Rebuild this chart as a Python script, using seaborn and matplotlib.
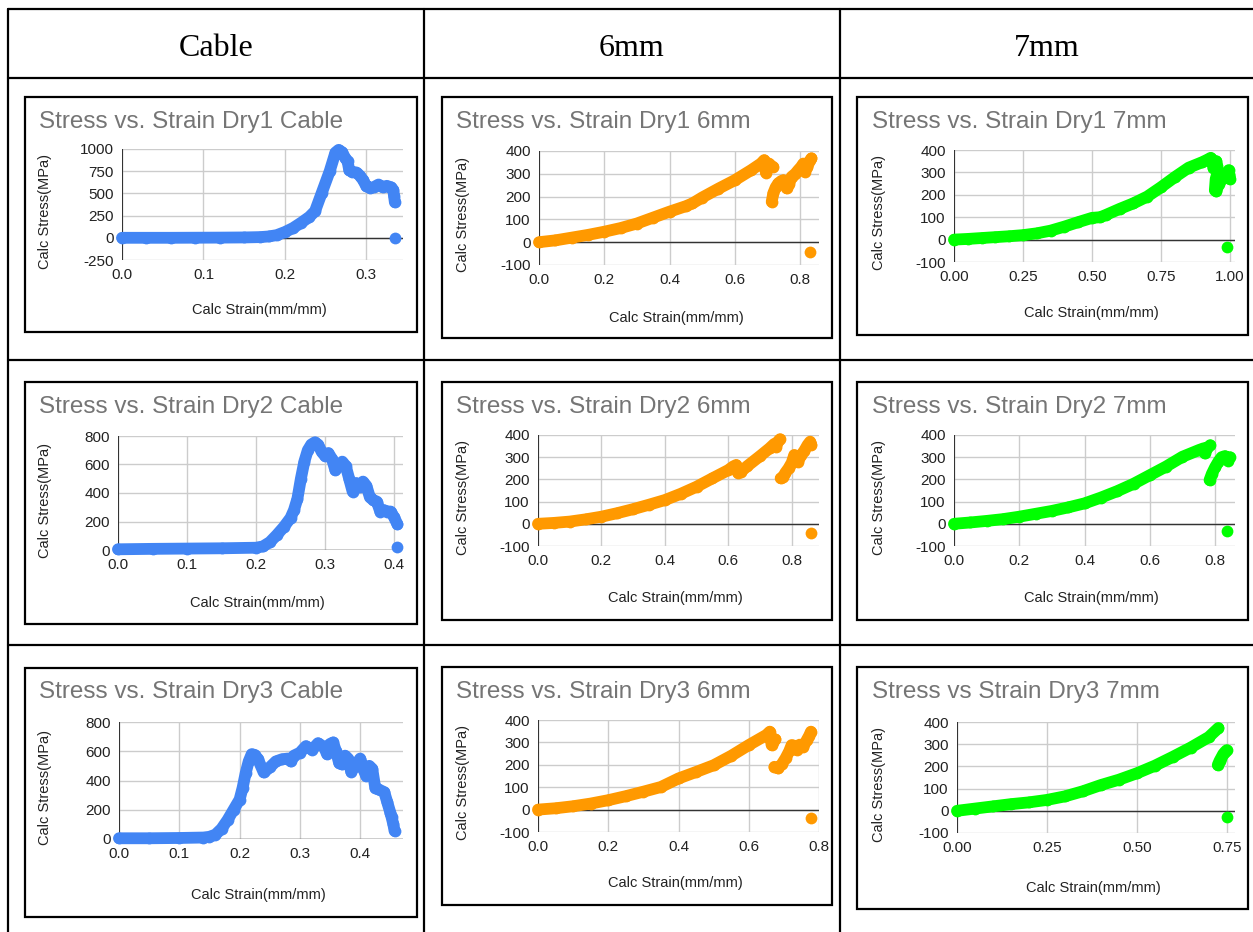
import matplotlib
matplotlib.use("Agg")
import numpy as np
import pandas as pd
import matplotlib.pyplot as plt
import seaborn as sns
from matplotlib.patches import Rectangle
from matplotlib.lines import Line2D

# ---------------- data ----------------
column_headers = ["Cable", "6mm", "7mm"]

dry1_cable_strain = [0.000, 0.030, 0.060, 0.090, 0.120, 0.150, 0.170, 0.180, 0.190, 0.200, 0.210, 0.220, 0.230, 0.237,
                     0.245, 0.255, 0.262, 0.266, 0.270, 0.274, 0.277, 0.279, 0.282, 0.288, 0.292, 0.296, 0.300, 0.305,
                     0.310, 0.315, 0.320, 0.325, 0.330, 0.333, 0.334, 0.335, 0.335]
dry1_cable_stress = [0, 0, 0, 1, 2, 4, 8, 15, 30, 65, 110, 170, 235, 300,
                     500, 750, 960, 990, 965, 900, 860, 760, 745, 735, 700, 650, 580, 560,
                     575, 600, 570, 585, 570, 540, 470, 400, 0]
dry1_cable_seg = [0] * 36 + [1]

dry1_6mm_strain = [0, 0.05, 0.1, 0.15, 0.2, 0.25, 0.3, 0.35, 0.4, 0.45, 0.47, 0.5, 0.55, 0.6, 0.65, 0.68, 0.69,
                   0.693, 0.695, 0.700, 0.705, 0.712, 0.718,
                   0.713, 0.718, 0.725, 0.733, 0.742, 0.749, 0.755, 0.759, 0.766, 0.774, 0.785, 0.795, 0.803, 0.810,
                   0.815, 0.822, 0.831, 0.835,
                   0.831]
dry1_6mm_stress = [0, 8, 20, 32, 46, 62, 82, 108, 134, 158, 170, 196, 235, 272, 316, 345, 360,
                   345, 305, 320, 345, 335, 330,
                   177, 215, 240, 258, 268, 272, 250, 236, 255, 287, 300, 317, 330, 345,
                   309, 330, 360, 368,
                   -41]
dry1_6mm_seg = [0] * 23 + [1] * 18 + [2]

dry1_7mm_strain = [0, 0.05, 0.1, 0.15, 0.2, 0.25, 0.3, 0.35, 0.4, 0.45, 0.5, 0.53, 0.55, 0.6, 0.65, 0.7, 0.75,
                   0.8, 0.85, 0.9, 0.92, 0.93, 0.935, 0.94, 0.945, 0.95, 0.953, 0.955, 0.948, 0.945, 0.95, 0.96,
                   0.97, 0.98, 0.99, 0.995, 0.998, 1.0,
                   0.988]
dry1_7mm_stress = [0, 3, 7, 11, 15, 20, 28, 40, 58, 78, 97, 100, 110, 137, 162, 192, 234,
                   279, 321, 346, 358, 365, 350, 320, 345, 350, 330, 300, 270, 220, 215, 250,
                   270, 280, 300, 310, 290, 270,
                   -31]
dry1_7mm_seg = [0] * 38 + [1]

dry2_cable_strain = [0, 0.05, 0.1, 0.15, 0.2, 0.21, 0.22, 0.23, 0.24, 0.25, 0.255, 0.26, 0.265, 0.27, 0.275, 0.28,
                     0.285, 0.29, 0.295, 0.30, 0.305, 0.31, 0.315, 0.32, 0.325, 0.33, 0.335, 0.34, 0.345, 0.35,
                     0.355, 0.36, 0.365, 0.37, 0.375, 0.38, 0.385, 0.39, 0.395, 0.40, 0.405,
                     0.405]
dry2_cable_stress = [5, 8, 10, 12, 16, 25, 55, 105, 160, 225, 280, 360, 500, 620, 700, 740,
                     755, 740, 690, 660, 680, 640, 560, 590, 620, 590, 500, 410, 470, 440,
                     480, 450, 370, 350, 340, 270, 280, 270, 270, 230, 180,
                     20]
dry2_cable_seg = [0] * 41 + [1]

dry2_6mm_strain = [0, 0.05, 0.1, 0.15, 0.2, 0.25, 0.3, 0.35, 0.4, 0.45, 0.5, 0.55, 0.6, 0.615, 0.625, 0.63, 0.64,
                   0.66, 0.7, 0.73, 0.745, 0.75, 0.757, 0.763,
                   0.765, 0.772, 0.78, 0.79, 0.80, 0.808, 0.815, 0.82, 0.83, 0.84, 0.85, 0.858, 0.862,
                   0.86]
dry2_6mm_stress = [0, 4, 10, 20, 32, 48, 66, 86, 107, 135, 167, 205, 242, 258, 265, 230, 235,
                   260, 305, 340, 360, 345, 372, 381,
                   205, 210, 230, 250, 275, 310, 300, 280, 310, 330, 355, 370, 355,
                   -40]
dry2_6mm_seg = [0] * 24 + [1] * 13 + [2]

dry2_7mm_strain = [0, 0.05, 0.1, 0.15, 0.2, 0.25, 0.3, 0.35, 0.4, 0.45, 0.5, 0.55, 0.6, 0.65, 0.7, 0.75, 0.765,
                   0.769, 0.775, 0.785,
                   0.783, 0.79, 0.80, 0.81, 0.82, 0.83, 0.835, 0.84, 0.845,
                   0.836]
dry2_7mm_stress = [0, 6, 13, 21, 32, 45, 58, 74, 92, 118, 147, 180, 219, 258, 302, 332, 340,
                   317, 340, 354,
                   197, 225, 255, 280, 300, 305, 290, 285, 300,
                   -33]
dry2_7mm_seg = [0] * 20 + [1] * 9 + [2]

dry3_cable_strain = [0, 0.05, 0.1, 0.14, 0.15, 0.16, 0.17, 0.18, 0.19, 0.2, 0.205, 0.21, 0.215, 0.22, 0.225, 0.23,
                     0.24, 0.25, 0.26, 0.27, 0.28, 0.285, 0.29, 0.3, 0.31, 0.32, 0.33, 0.34, 0.345, 0.35, 0.355,
                     0.36, 0.365, 0.37, 0.375, 0.38, 0.385, 0.39, 0.4, 0.405, 0.41, 0.415, 0.42, 0.425, 0.43,
                     0.44, 0.445, 0.45, 0.452, 0.455, 0.457]
dry3_cable_stress = [5, 5, 7, 10, 15, 30, 70, 130, 200, 270, 350, 450, 530, 580, 575, 550,
                     455, 490, 530, 545, 550, 530, 570, 590, 635, 610, 655, 630, 580, 650, 660,
                     600, 520, 510, 570, 550, 460, 490, 550, 480, 430, 500, 480, 350, 340,
                     320, 250, 180, 150, 100, 55]
dry3_cable_seg = [0] * 51

dry3_6mm_strain = [0, 0.05, 0.1, 0.15, 0.2, 0.25, 0.3, 0.35, 0.4, 0.45, 0.5, 0.55, 0.6, 0.65, 0.66, 0.665, 0.67,
                   0.676,
                   0.673, 0.684, 0.695, 0.705, 0.715, 0.722, 0.73, 0.736, 0.745, 0.755, 0.765, 0.772, 0.777,
                   0.777]
dry3_6mm_stress = [0, 6, 15, 27, 42, 60, 80, 101, 139, 168, 198, 240, 288, 333, 348, 288, 300,
                   313,
                   191, 184, 205, 230, 260, 288, 285, 266, 290, 280, 310, 330, 348,
                   -37]
dry3_6mm_seg = [0] * 18 + [1] * 13 + [2]

dry3_7mm_strain = [0, 0.05, 0.1, 0.15, 0.2, 0.25, 0.3, 0.35, 0.4, 0.45, 0.5, 0.55, 0.6, 0.65, 0.7, 0.727,
                   0.725, 0.73, 0.735, 0.74, 0.745, 0.75,
                   0.75]
dry3_7mm_stress = [0, 10, 20, 30, 38, 49, 65, 88, 116, 140, 169, 203, 243, 285, 332, 373,
                   206, 225, 240, 255, 265, 273,
                   -30]
dry3_7mm_seg = [0] * 16 + [1] * 6 + [2]

# ---------------- styling / layout ----------------
sns.set_theme(style="white")
plt.rcParams['font.family'] = ['Liberation Sans', 'DejaVu Sans']

W, H = 1253, 932
fig = plt.figure(figsize=(W / 100, H / 100), dpi=100)
fig.patch.set_facecolor("white")


def fx(x):
    return x / W


def fy(y):
    return 1 - y / H


COL_BLUE = "#4285F4"
COL_ORANGE = "#FF9900"
COL_GREEN = "#00FF00"

charts = [
    ("Stress vs. Strain Dry1 Cable", dry1_cable_strain, dry1_cable_stress, dry1_cable_seg, COL_BLUE,
     (122, 149, 403, 260), (25, 97, 417, 332), 0.345, [0, 0.1, 0.2, 0.3], "{:.1f}", (-250, 1000), 250, 310, 122),
    ("Stress vs. Strain Dry1 6mm", dry1_6mm_strain, dry1_6mm_stress, dry1_6mm_seg, COL_ORANGE,
     (539, 151, 819, 265), (442, 97, 832, 338), 0.858, [0, 0.2, 0.4, 0.6, 0.8], "{:.1f}", (-100, 400), 100, 318, 122),
    ("Stress vs. Strain Dry1 7mm", dry1_7mm_strain, dry1_7mm_stress, dry1_7mm_seg, COL_GREEN,
     (954, 150, 1235, 262), (857, 97, 1248, 335), 1.018, [0, 0.25, 0.5, 0.75, 1.0], "{:.2f}", (-100, 400), 100, 313, 122),
    ("Stress vs. Strain Dry2 Cable", dry2_cable_strain, dry2_cable_stress, dry2_cable_seg, COL_BLUE,
     (118, 436, 403, 550), (25, 382, 417, 624), 0.413, [0, 0.1, 0.2, 0.3, 0.4], "{:.1f}", (0, 800), 200, 603, 407),
    ("Stress vs. Strain Dry2 6mm", dry2_6mm_strain, dry2_6mm_stress, dry2_6mm_seg, COL_ORANGE,
     (538, 435, 819, 546), (442, 382, 832, 620), 0.886, [0, 0.2, 0.4, 0.6, 0.8], "{:.1f}", (-100, 400), 100, 598, 407),
    ("Stress vs. Strain Dry2 7mm", dry2_7mm_strain, dry2_7mm_stress, dry2_7mm_seg, COL_GREEN,
     (954, 435, 1235, 546), (857, 382, 1248, 620), 0.861, [0, 0.2, 0.4, 0.6, 0.8], "{:.1f}", (-100, 400), 100, 598, 407),
    ("Stress vs. Strain Dry3 Cable", dry3_cable_strain, dry3_cable_stress, dry3_cable_seg, COL_BLUE,
     (119, 722, 403, 839), (25, 668, 417, 917), 0.471, [0, 0.1, 0.2, 0.3, 0.4], "{:.1f}", (0, 800), 200, 895, 692),
    ("Stress vs. Strain Dry3 6mm", dry3_6mm_strain, dry3_6mm_stress, dry3_6mm_seg, COL_ORANGE,
     (538, 720, 819, 832), (442, 667, 832, 905), 0.800, [0, 0.2, 0.4, 0.6, 0.8], "{:.1f}", (-100, 400), 100, 883, 692),
    ("Stress vs Strain Dry3 7mm", dry3_7mm_strain, dry3_7mm_stress, dry3_7mm_seg, COL_GREEN,
     (957, 722, 1235, 833), (857, 667, 1248, 909), 0.773, [0, 0.25, 0.5, 0.75], "{:.2f}", (-100, 400), 100, 888, 692),
]

box_title_x = {25: 39, 442: 456, 857: 872}
ylabel_x = {25: 45, 442: 463, 857: 879}

for (title, strain, stress, seg, color, plot_px, box_px, xmax, xticks, xfmt, ylim, ystep,
     xlabel_y, title_y) in charts:
    l, t, r, b = plot_px
    ax = fig.add_axes([fx(l), fy(b), (r - l) / W, (b - t) / H])
    ax.set_facecolor("white")
    df = pd.DataFrame({"strain": strain, "stress": stress, "seg": seg})

    sns.lineplot(data=df, x="strain", y="stress", units="seg", estimator=None, sort=False,
                 color=color, linewidth=8.5, ax=ax, legend=False, zorder=3)
    for ln in ax.lines:
        ln.set_solid_capstyle("round")
        ln.set_solid_joinstyle("round")
        ln.set_clip_on(False)
    sns.scatterplot(data=df, x="strain", y="stress", color=color, s=72, linewidth=0,
                    ax=ax, legend=False, zorder=4, clip_on=False)

    ax.set_xlim(0, xmax)
    ax.set_ylim(*ylim)
    ax.set_xticks(xticks)
    ax.set_xticklabels([xfmt.format(v) for v in xticks])
    yt = np.arange(ylim[0], ylim[1] + 1, ystep)
    ax.set_yticks(yt)
    ax.set_yticklabels([str(int(v)) for v in yt])
    ax.grid(True, color="#cccccc", linewidth=1.0, zorder=0)
    ax.set_axisbelow(True)
    ax.axhline(0, color="#333333", linewidth=1.0, zorder=2)
    ax.axvline(0, color="#333333", linewidth=1.5, zorder=2)
    for sp in ax.spines.values():
        sp.set_visible(False)
    ax.tick_params(length=0, labelsize=11, colors="#222222", pad=6)
    ax.set_xlabel("")
    ax.set_ylabel("")

    bl, bt, br, bb = box_px
    fig.add_artist(Rectangle((fx(bl), fy(bb)), (br - bl) / W, (bb - bt) / H,
                             transform=fig.transFigure, fill=False, edgecolor="black", linewidth=1.6))
    fig.text(fx(box_title_x[bl]), fy(title_y), title, color="#757575", fontsize=17.5,
             ha="left", va="center")
    fig.text(fx((l + r) / 2 - 3), fy(xlabel_y), "Calc Strain(mm/mm)", fontsize=10.5, color="#222222",
             ha="center", va="center")
    fig.text(fx(ylabel_x[bl]), fy((t + b) / 2 + 7), "Calc Stress(MPa)", fontsize=10.5, color="#222222",
             ha="center", va="center", rotation=90)

# ---------------- table grid ----------------
lw_tab = 1.6
for yv in [9, 78, 360, 645]:
    fig.add_artist(Line2D([fx(8), 1], [fy(yv), fy(yv)], transform=fig.transFigure, color="black", linewidth=lw_tab))
for xv in [8, 424, 840]:
    fig.add_artist(Line2D([fx(xv), fx(xv)], [fy(9), 0], transform=fig.transFigure, color="black", linewidth=lw_tab))

for cx, name in zip([216, 632, 1047], column_headers):
    fig.text(fx(cx), fy(56), name, family=["Liberation Serif", "DejaVu Serif"], fontsize=23,
             ha="center", va="baseline", color="black")

fig.savefig("out.png", dpi=100, facecolor="white")
